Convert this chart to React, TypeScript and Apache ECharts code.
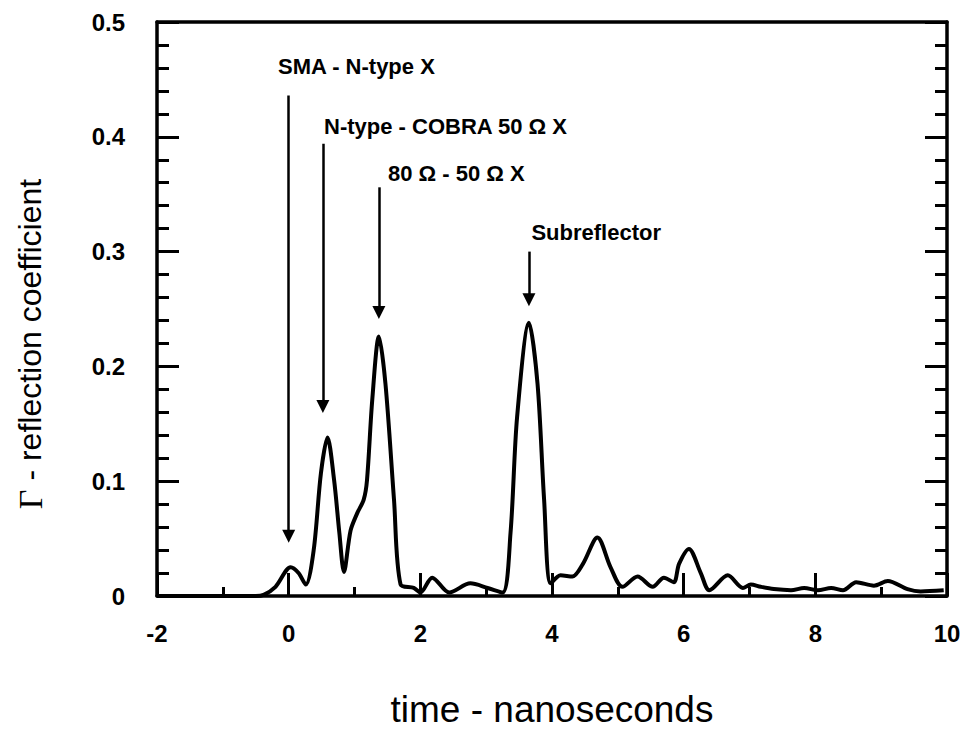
import React, { useEffect, useRef } from "react";
import * as echarts from "echarts";

// time (ns) and reflection coefficient
const timeNs = [
  -2, -0.5, -0.38, -0.2, 0.03, 0.15, 0.26, 0.38, 0.49, 0.59, 0.69, 0.77, 0.84, 0.94, 1.04, 1.14,
  1.19, 1.27, 1.37, 1.47, 1.6, 1.7, 1.9, 2.0, 2.18, 2.44, 2.76, 3.02, 3.25, 3.37, 3.47, 3.65,
  3.78, 3.88, 3.98, 4.13, 4.31, 4.47, 4.69, 4.89, 5.07, 5.3, 5.53, 5.7, 5.85, 5.93, 6.08, 6.26,
  6.39, 6.67, 6.9, 7.02, 7.17, 7.37, 7.63, 7.83, 8.04, 8.24, 8.42, 8.62, 8.89, 9.1, 9.4, 9.6, 9.95,
];
const gamma = [
  0, 0, 0.001, 0.008, 0.025, 0.02, 0.01, 0.04, 0.107, 0.138, 0.101, 0.055, 0.021, 0.057, 0.072, 0.084,
  0.101, 0.171, 0.226, 0.185, 0.084, 0.01, 0.007, 0.003, 0.016, 0.003, 0.011, 0.007, 0.003, 0.055, 0.156, 0.238,
  0.185, 0.084, 0.011, 0.018, 0.017, 0.028, 0.051, 0.025, 0.008, 0.017, 0.008, 0.016, 0.012, 0.028, 0.041, 0.02,
  0.005, 0.018, 0.007, 0.01, 0.008, 0.006, 0.005, 0.007, 0.005, 0.007, 0.005, 0.012, 0.009, 0.013, 0.006, 0.004, 0.005,
];

// annotation arrows (time, top value, tip value)
const arrowT = [0, 0.52, 1.37, 3.65];
const arrowTop = [0.436, 0.394, 0.356, 0.3];
const arrowTip = [0.052, 0.165, 0.247, 0.258];

// annotation labels
const labelTexts = ["SMA - N-type X", "N-type - COBRA 50 Ω X", "80 Ω - 50 Ω X", "Subreflector"];
const labelT = [-0.17, 0.53, 1.5, 3.68];
const labelV = [0.461, 0.409, 0.368, 0.317];

const FONT = "'Liberation Sans', Arial, Helvetica, sans-serif";

export default function App() {
  const ref = useRef<HTMLDivElement>(null);
  useEffect(() => {
    if (!ref.current) return;
    const chart = echarts.init(ref.current, undefined, { renderer: "svg" });
    const axisLine = { show: true, onZero: false, lineStyle: { color: "#000", width: 3.5 } };
    const option: any = {
      animation: false,
      backgroundColor: "#fff",
      grid: { left: 157, right: 19, top: 22, bottom: 134, containLabel: false, outerBoundsMode: "none" },
      xAxis: [
        {
          type: "value",
          position: "bottom",
          min: -2,
          max: 10,
          interval: 2,
          axisLine,
          axisTick: { show: true, inside: true, length: 23, lineStyle: { color: "#000", width: 3 } },
          minorTick: { show: true, splitNumber: 2, length: 9, lineStyle: { color: "#000", width: 3 } },
          splitLine: { show: false },
          axisLabel: { color: "#000", fontSize: 24, fontWeight: "bold", fontFamily: FONT, margin: 25 },
          name: "time - nanoseconds",
          nameLocation: "middle",
          nameGap: 95,
          nameTextStyle: { color: "#000", fontSize: 37, lineHeight: 37, fontFamily: FONT },
        },
        {
          type: "value",
          position: "top",
          min: -2,
          max: 10,
          interval: 2,
          axisLine,
          axisTick: { show: false },
          axisLabel: { show: false },
          splitLine: { show: false },
        },
      ],
      yAxis: [
        {
          type: "value",
          position: "left",
          min: 0,
          max: 0.5,
          interval: 0.1,
          axisLine,
          axisTick: { show: true, inside: true, length: 22, lineStyle: { color: "#000", width: 3 } },
          minorTick: { show: true, splitNumber: 5, length: 12, lineStyle: { color: "#000", width: 3 } },
          splitLine: { show: false },
          axisLabel: { color: "#000", fontSize: 24, fontWeight: "bold", fontFamily: FONT, margin: 32 },
          name: "{g|Γ} - reflection coefficient",
          nameLocation: "middle",
          nameGap: 110,
          nameTextStyle: {
            color: "#000",
            fontSize: 32,
            fontFamily: FONT,
            padding: [0, 70, 0, 0],
            rich: { g: { fontFamily: "'Liberation Serif', 'DejaVu Serif', serif", fontSize: 34, color: "#000" } },
          },
        },
        {
          type: "value",
          position: "right",
          min: 0,
          max: 0.5,
          interval: 0.1,
          axisLine,
          axisTick: { show: true, inside: true, length: 22, lineStyle: { color: "#000", width: 3 } },
          minorTick: { show: true, splitNumber: 5, length: 12, lineStyle: { color: "#000", width: 3 } },
          splitLine: { show: false },
          axisLabel: { show: false },
        },
      ],
      series: [
        {
          type: "line",
          xAxisIndex: 0,
          yAxisIndex: 0,
          data: timeNs.map((t, i) => [t, gamma[i]]),
          showSymbol: false,
          smooth: 0.3,
          lineStyle: { color: "#000", width: 4 },
          z: 3,
          markLine: {
            silent: true,
            symbol: ["none", "triangle"],
            symbolSize: 13,
            label: { show: false },
            lineStyle: { color: "#000", width: 2.5, type: "solid" },
            itemStyle: { color: "#000" },
            data: arrowT.map((t, i) => [
              { coord: [t, arrowTop[i]] },
              { coord: [t, arrowTip[i]] },
            ]),
          },
          markPoint: {
            silent: true,
            symbol: "circle",
            symbolSize: 1,
            itemStyle: { color: "rgba(0,0,0,0)" },
            label: {
              show: true,
              position: "right",
              distance: 0,
              color: "#000",
              fontSize: 22,
              fontWeight: "bold",
              fontFamily: FONT,
            },
            data: labelTexts.map((txt, i) => ({
              coord: [labelT[i], labelV[i]],
              value: txt,
              label: { formatter: txt },
            })),
          },
        },
      ],
    };
    chart.setOption(option);
    return () => chart.dispose();
  }, []);
  return (
    <div
      ref={ref}
      style={{ position: "fixed", left: 0, top: 0, width: 966, height: 730, background: "#fff" }}
    />
  );
}
